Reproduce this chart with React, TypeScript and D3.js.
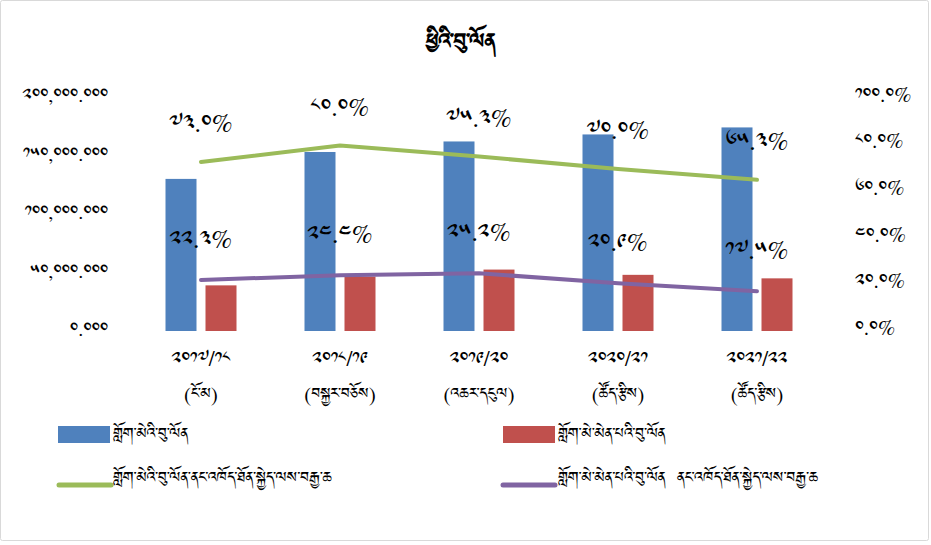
import React from "react";
import * as d3 from "d3";

// fiscal years and their status note
const years = ["2017/18", "2018/19", "2019/20", "2020/21", "2021/22"];
const notes = ["(ངོ་མ)", "(བསྐྱར་བཅོས)", "(འཆར་དངུལ)", "(ཚོད་རྩིས)", "(ཚོད་རྩིས)"];

// debt stock
const hydroDebt = [130000, 153000, 162000, 168000, 174000];
const nonHydroDebt = [39000, 46500, 52500, 48000, 45000];

// share of GDP (%)
const hydroPct = [73.0, 80.0, 75.3, 70.0, 65.3];
const nonHydroPct = [22.3, 24.4, 25.2, 20.9, 17.5];

const leftTicks = [0, 50000, 100000, 150000, 200000];
const rightTicks = [0, 20, 40, 60, 80, 100];

const title = "ཕྱིའི་བུ་ལོན";
const legendNames = [
    "གློག་མེའི་བུ་ལོན",
    "གློག་མེ་མེན་པའི་བུ་ལོན",
    "གློག་མེའི་བུ་ལོན་ནང་འཁོད་ཐོན་སྐྱེད་ལས་བརྒྱ་ཆ",
    "གློག་མེ་མེན་པའི་བུ་ལོན  ནང་འཁོད་ཐོན་སྐྱེད་ལས་བརྒྱ་ཆ",
];

const COLORS = {
    blue:   "#4F81BD",
    red:    "#C0504D",
    green:  "#9BBB59",
    purple: "#8064A2",
};

const FONT = "'Noto Sans Tibetan', Jomolhari, 'Microsoft Himalaya', 'DejaVu Sans', sans-serif";

// arabic digits -> tibetan digits
const tib = (s: string) => s.replace(/[0-9]/g, d => String.fromCharCode(0x0f20 + Number(d)));

const W = 931;
const H = 545;
const plot = { left: 131.5, right: 826.5, top: 97, bottom: 331 };

export default function App() {
    const x = d3.scaleBand<number>()
        .domain(d3.range(years.length))
        .range([plot.left, plot.right])
        .padding(0);

    const groupW = 71;
    const sub = d3.scaleBand<string>()
        .domain(["hydro", "nonhydro"])
        .range([0, groupW])
        .paddingInner(0.225);

    const yL = d3.scaleLinear().domain([0, 200000]).range([plot.bottom, plot.top]);
    const yR = d3.scaleLinear().domain([0, 100]).range([plot.bottom - 2, plot.top - 1]);

    const cx = (i: number) => (x(i) as number) + x.bandwidth() / 2;
    const gx = (i: number) => cx(i) - groupW / 2;

    const line = d3.line<number>()
        .x((_, i) => cx(i))
        .y(d => yR(d) + 3);

    const fmtL = d3.format(",.3f");
    const fmtR = d3.format(".1f");

    return (
        <svg width={W} height={H} style={{ position: "absolute", left: 0, top: 0, background: "#fff" }}
            fontFamily={FONT}>
            <rect x={0.5} y={0.5} width={W - 3} height={H - 5} fill="#fff" stroke="#d9d9d9" rx={2} />

            <text x={461} y={53} textAnchor="middle" fontSize={26} fontWeight="bold">{title}</text>

            {/* left axis */}
            {leftTicks.map(t => (
                <text key={"l" + t} x={108} y={yL(t)} dy="0.3em" textAnchor="end" fontSize={18}>
                    {tib(fmtL(t))}
                </text>
            ))}

            {/* right axis */}
            {rightTicks.map(t => (
                <text key={"r" + t} x={855} y={yR(t)} dy="0.3em" textAnchor="start" fontSize={19}>
                    {tib(fmtR(t)) + "%"}
                </text>
            ))}

            {/* bars */}
            {hydroDebt.map((v, i) => (
                <rect key={"b" + i} x={gx(i) + (sub("hydro") as number)} y={yL(v)}
                    width={sub.bandwidth()} height={yL(0) - yL(v)} fill={COLORS.blue} />
            ))}
            {nonHydroDebt.map((v, i) => (
                <rect key={"n" + i} x={gx(i) + (sub("nonhydro") as number)} y={yL(v)}
                    width={sub.bandwidth()} height={yL(0) - yL(v)} fill={COLORS.red} />
            ))}

            {/* lines */}
            <path d={line(hydroPct) || ""} fill="none" stroke={COLORS.green} strokeWidth={4}
                strokeLinejoin="round" strokeLinecap="round" />
            <path d={line(nonHydroPct) || ""} fill="none" stroke={COLORS.purple} strokeWidth={4}
                strokeLinejoin="round" strokeLinecap="round" />

            {/* data labels */}
            {hydroPct.map((v, i) => (
                <text key={"hl" + i} x={cx(i)} y={yR(v) - 27} textAnchor="middle" fontSize={23}>
                    {tib(fmtR(v)) + "%"}
                </text>
            ))}
            {nonHydroPct.map((v, i) => (
                <text key={"nl" + i} x={cx(i)} y={yR(v) - 29} textAnchor="middle" fontSize={23}>
                    {tib(fmtR(v)) + "%"}
                </text>
            ))}

            {/* category labels */}
            {years.map((yr, i) => (
                <g key={"c" + i}>
                    <text x={cx(i)} y={366} textAnchor="middle" fontSize={19}>{tib(yr)}</text>
                    <text x={cx(i)} y={402} textAnchor="middle" fontSize={19}>{notes[i]}</text>
                </g>
            ))}

            {/* legend */}
            <rect x={58} y={426} width={52} height={17} fill={COLORS.blue} />
            <text x={113} y={436} dy="0.3em" fontSize={19}>{legendNames[0]}</text>
            <rect x={503} y={426} width={52} height={17} fill={COLORS.red} />
            <text x={558} y={436} dy="0.3em" fontSize={19}>{legendNames[1]}</text>
            <line x1={59} x2={111} y1={485} y2={485} stroke={COLORS.green} strokeWidth={5} strokeLinecap="round" />
            <text x={113} y={480} dy="0.3em" fontSize={19}>{legendNames[2]}</text>
            <line x1={503} x2={555} y1={485} y2={485} stroke={COLORS.purple} strokeWidth={5} strokeLinecap="round" />
            <text x={558} y={480} dy="0.3em" fontSize={19} style={{ whiteSpace: "pre" }}>{legendNames[3]}</text>
        </svg>
    );
}
